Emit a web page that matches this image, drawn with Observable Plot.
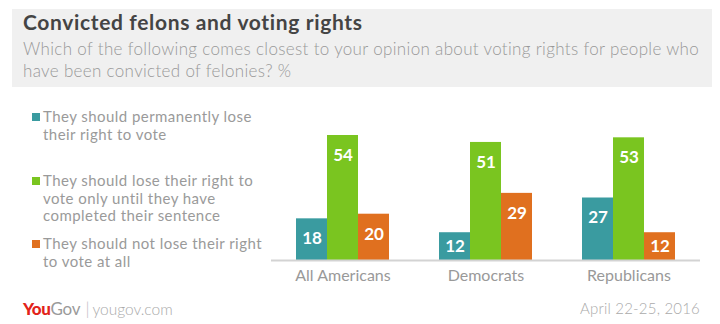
<!DOCTYPE html>
<html>
<head>
<meta charset="utf-8">
<script src="https://cdn.jsdelivr.net/npm/d3@7"></script>
<script src="https://cdn.jsdelivr.net/npm/@observablehq/plot@0.6"></script>
<style>
  html, body { margin: 0; padding: 0; background: #fff; }
  #wrap { position: relative; width: 720px; height: 324px; overflow: hidden; font-family: Lato, "Open Sans", sans-serif; }
  #band { position: absolute; left: 12px; top: 9px; width: 700px; height: 78px; background: #f0f0f0; }
  #title { position: absolute; left: 23px; top: 9px; font-size: 21px; font-weight: 700; color: #444; white-space: nowrap; letter-spacing: 0.65px; }
  #subtitle { position: absolute; left: 23px; top: 38px; font-size: 17px; font-weight: 300; color: #999; line-height: 22px; width: 700px; letter-spacing: 0.33px; white-space: nowrap; }
  #chart { position: absolute; left: 0; top: 0; }
  .leg { position: absolute; left: 32px; font-size: 15px; color: #9a9a9a; line-height: 17.7px; letter-spacing: 0.45px; }
  .leg .sw { position: absolute; left: 0; top: 5px; width: 8px; height: 8px; }
  .leg .tx { position: absolute; left: 11px; top: 0; white-space: nowrap; }
  #logo { position: absolute; left: 23px; top: 298px; font-size: 17px; white-space: nowrap; }
  #logo .you { color: #e2231a; font-weight: 900; letter-spacing: -0.4px; }
  #logo .gov { color: #9a9a9a; font-weight: 400; letter-spacing: -0.2px; }
  #logo .sep { color: #bbb; font-weight: 300; margin: 0 3px 0 5px; }
  #logo .url { color: #aaa; font-weight: 300; font-size: 15.5px; }
  #date { position: absolute; right: 20px; top: 299px; font-size: 15px; font-weight: 300; color: #aaa; letter-spacing: 0.2px; }
</style>
</head>
<body>
<div id="wrap">
  <div id="band"></div>
  <div id="title"></div>
  <div id="subtitle"></div>
  <div id="chart"></div>
  <div id="legend"></div>
  <div id="logo"><span class="you">You</span><span class="gov">Gov</span><span class="sep">|</span><span class="url">yougov.com</span></div>
  <div id="date"></div>
</div>
<script>
// ---- data ----
const titleText = "Convicted felons and voting rights";
const subtitleLines = [
  "Which of the following comes closest to your opinion about voting rights for people who",
  "have been convicted of felonies? %"
];
const categories = ["All Americans", "Democrats", "Republicans"];
const seriesKeys = ["permanently", "untilSentence", "notAtAll"];
const legendLines = [
  ["They should permanently lose", "their right to vote"],
  ["They should lose their right to", "vote only until they have", "completed their sentence"],
  ["They should not lose their right", "to vote at all"]
];
const permanently = [18, 12, 27];
const untilSentence = [54, 51, 53];
const notAtAll = [20, 29, 12];
const dateText = "April 22-25, 2016";

// ---- styles ----
const colors = ["#3a9ba0", "#7ac520", "#e0701f"];
const legendTops = [108, 172, 235];

document.getElementById("title").textContent = titleText;
document.getElementById("subtitle").innerHTML = subtitleLines.join("<br>");
document.getElementById("date").textContent = dateText;

const legend = document.getElementById("legend");
legendLines.forEach((lines, i) => {
  const item = document.createElement("div");
  item.className = "leg";
  item.style.top = legendTops[i] + "px";
  const sw = document.createElement("div");
  sw.className = "sw";
  sw.style.background = colors[i];
  const tx = document.createElement("div");
  tx.className = "tx";
  tx.innerHTML = lines.join("<br>");
  item.appendChild(sw);
  item.appendChild(tx);
  legend.appendChild(item);
});

const seriesValues = [permanently, untilSentence, notAtAll];
const rows = categories.flatMap((c, i) =>
  seriesKeys.map((s, j) => ({category: c, series: s, value: seriesValues[j][i]}))
);
const maxVal = d3.max(rows, d => d.value);

const plot = Plot.plot({
  width: 720,
  height: 324,
  marginLeft: 270,
  marginRight: 20,
  marginTop: 135,
  marginBottom: 64,
  facet: {data: rows, x: "category"},
  fx: {domain: categories, padding: 0, axis: null, label: null},
  x: {domain: seriesKeys, axis: null, paddingInner: 0, paddingOuter: 0.76},
  y: {domain: [0, maxVal], axis: null},
  color: {domain: seriesKeys, range: colors},
  style: {fontFamily: "Lato, sans-serif", fontSize: "16px", color: "#999", background: "transparent"},
  marks: [
    Plot.barY(rows, {x: "series", y: "value", fill: "series"}),
    Plot.ruleY([0], {stroke: "#d3d3d3", strokeWidth: 2}),
    Plot.text(rows, {filter: d => d.value >= 15, x: "series", y: "value", dy: 20, text: d => String(d.value), fill: "white", fontWeight: "bold", fontSize: 17}),
    Plot.text(rows, {filter: d => d.value < 15, x: "series", y: d => d.value / 2, text: d => String(d.value), fill: "white", fontWeight: "bold", fontSize: 17}),
    // category labels, centred under the middle bar of each group
    Plot.text(rows, {filter: d => d.series === seriesKeys[1], x: "series", frameAnchor: "bottom", dy: 20, text: "category", fill: "#999", fontSize: 16, fontWeight: 400})
  ]
});
document.getElementById("chart").appendChild(plot);
</script>
</body>
</html>
